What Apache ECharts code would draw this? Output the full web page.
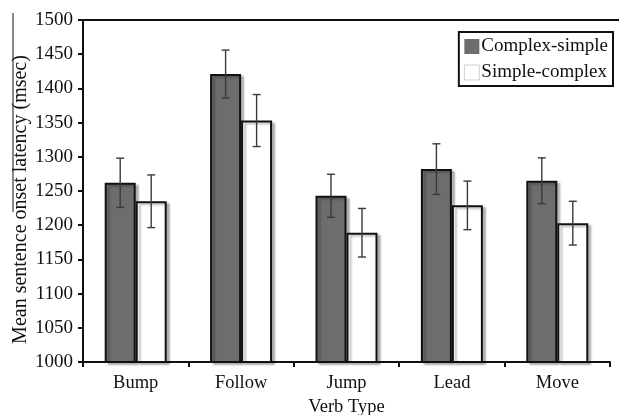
<!DOCTYPE html>
<html>
<head>
<meta charset="utf-8">
<script src="https://cdn.jsdelivr.net/npm/echarts@6/dist/echarts.min.js"></script>
<style>
    html, body { margin: 0; padding: 0; background: #fff; }
    #chart { width: 619px; height: 415px; }
</style>
</head>
<body>
<div id="chart"></div>
<script>
// Data
var verbTypes = ['Bump', 'Follow', 'Jump', 'Lead', 'Move'];
var complexSimple = [1262, 1421, 1243, 1282, 1265];
var complexSimpleErr = [36, 35, 31.5, 37, 33.5];
var simpleComplex = [1235, 1353, 1189, 1229, 1203];
var simpleComplexErr = [38.5, 38, 35.5, 35.5, 32];
var yTicks = { min: 1000, max: 1500, interval: 50 };

var FONT = '"Liberation Serif", "DejaVu Serif", serif';
var BAR_W = 31;

// error bar series, shifted left/right of the category centre
function errorSeries(values, errs, shift) {
    return {
        type: 'custom',
        z: 5,
        silent: true,
        data: values.map(function (v, i) { return [i, v - errs[i], v + errs[i]]; }),
        renderItem: function (params, api) {
            var lo = api.coord([api.value(0), api.value(1)]);
            var hi = api.coord([api.value(0), api.value(2)]);
            var x = lo[0] + shift;
            var cap = 4;
            var style = { stroke: '#3a3a3a', lineWidth: 1.4 };
            return {
                type: 'group',
                children: [
                    { type: 'line', shape: { x1: x, y1: hi[1], x2: x, y2: lo[1] }, style: style },
                    { type: 'line', shape: { x1: x - cap, y1: hi[1], x2: x + cap, y2: hi[1] }, style: style },
                    { type: 'line', shape: { x1: x - cap, y1: lo[1], x2: x + cap, y2: lo[1] }, style: style }
                ]
            };
        }
    };
}

var chart = echarts.init(document.getElementById('chart'));

chart.setOption({
    animation: false,
    backgroundColor: '#fff',
    textStyle: { fontFamily: FONT, color: '#111' },
    grid: { left: 83, right: 9, top: 20, bottom: 53, containLabel: false, outerBoundsMode: 'none' },
    legend: {
        orient: 'vertical',
        right: 6,
        top: 32,
        padding: [5, 5, 4, 5],
        itemGap: 7,
        itemWidth: 15,
        itemHeight: 15,
        borderColor: '#111',
        borderWidth: 2,
        textStyle: { fontFamily: FONT, fontSize: 19, color: '#111', padding: [0, 0, 0, -3] },
        data: [
            { name: 'Complex-simple', icon: 'rect', itemStyle: { color: '#6d6d6d', borderWidth: 0, shadowBlur: 0, shadowOffsetX: 0, shadowOffsetY: 0 } },
            { name: 'Simple-complex', icon: 'rect', itemStyle: { color: '#fff', borderColor: '#cfcfcf', borderWidth: 1, shadowBlur: 0, shadowOffsetX: 0, shadowOffsetY: 0 } }
        ]
    },
    xAxis: {
        type: 'category',
        data: verbTypes,
        name: 'Verb Type',
        nameLocation: 'middle',
        nameGap: 35,
        nameTextStyle: { fontFamily: FONT, fontSize: 18.5, color: '#111' },
        axisLine: { lineStyle: { color: '#111', width: 2 } },
        axisTick: { show: true, length: 5, lineStyle: { color: '#111', width: 2 } },
        axisLabel: { fontFamily: FONT, fontSize: 18.5, color: '#111', margin: 12 }
    },
    yAxis: {
        type: 'value',
        min: yTicks.min,
        max: yTicks.max,
        interval: yTicks.interval,
        name: 'Mean sentence onset latency (msec)',
        nameLocation: 'middle',
        nameGap: 52,
        nameMoveOverlap: false,
        nameTextStyle: { fontFamily: FONT, fontSize: 20, color: '#111', padding: [0, 17, 0, 0] },
        splitLine: { show: false },
        axisLine: { show: true, lineStyle: { color: '#111', width: 2 } },
        axisTick: { show: true, length: 5, lineStyle: { color: '#111', width: 2 } },
        axisLabel: {
            fontFamily: FONT, fontSize: 19, color: '#111', margin: 10,
            formatter: function (v) { return String(v); }
        }
    },
    series: [
        {
            name: 'Complex-simple',
            type: 'bar',
            data: complexSimple,
            barWidth: BAR_W,
            barGap: '0%',
            itemStyle: {
                color: '#6d6d6d', borderColor: '#111', borderWidth: 2,
                shadowColor: 'rgba(0,0,0,0.25)', shadowBlur: 2, shadowOffsetX: 3, shadowOffsetY: 2
            }
        },
        {
            name: 'Simple-complex',
            type: 'bar',
            data: simpleComplex,
            barWidth: BAR_W,
            itemStyle: {
                color: '#fff', borderColor: '#111', borderWidth: 2,
                shadowColor: 'rgba(0,0,0,0.25)', shadowBlur: 2, shadowOffsetX: 3, shadowOffsetY: 2
            }
        },
        errorSeries(complexSimple, complexSimpleErr, -BAR_W / 2),
        errorSeries(simpleComplex, simpleComplexErr, BAR_W / 2)
    ],
    graphic: [
        // top frame line of the plot box
        { type: 'line', shape: { x1: 82, y1: 20, x2: 619, y2: 20 }, style: { stroke: '#111', lineWidth: 2 } },
        // stray rule over the axis title in the original scan
        { type: 'line', shape: { x1: 13, y1: 13, x2: 13, y2: 212 }, style: { stroke: '#111', lineWidth: 1 } }
    ]
});
</script>
</body>
</html>
